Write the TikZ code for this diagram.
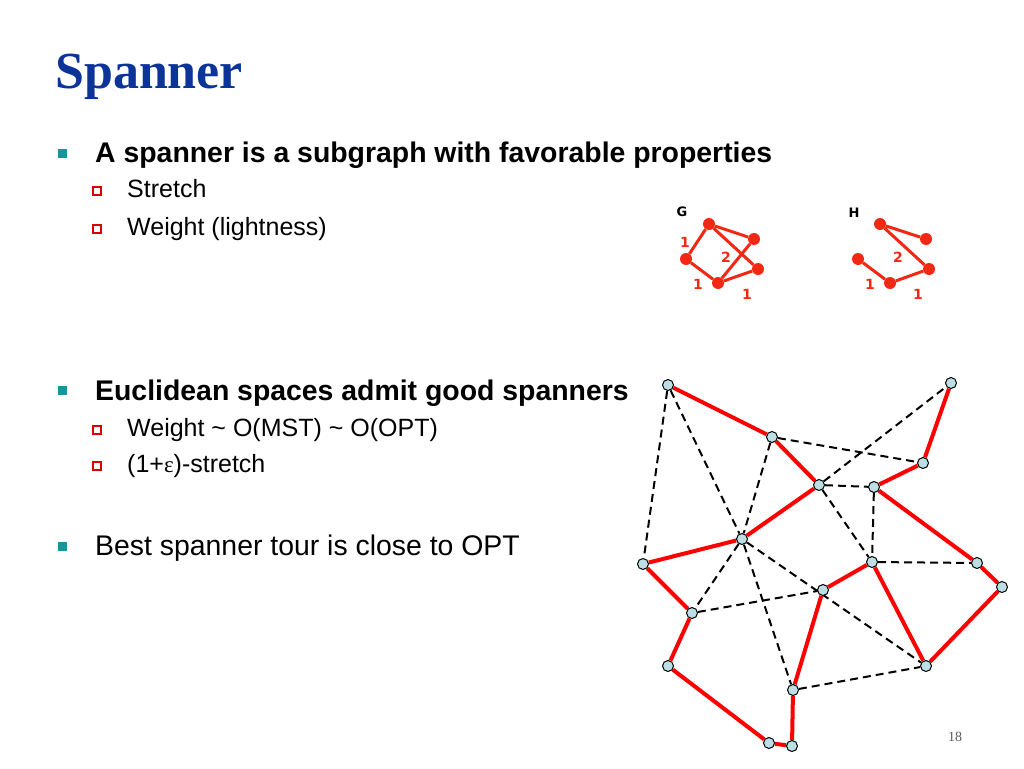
\documentclass[tikz,border=0pt]{standalone}
\usepackage{fontspec}
\setmainfont{Liberation Sans}
\newfontfamily\titlefont{Liberation Serif}
\newfontfamily\pesofont{DejaVu Sans}
\usetikzlibrary{backgrounds}

\definecolor{titleblue}{RGB}{12,52,152}
\definecolor{bulletteal}{RGB}{22,150,152}
\definecolor{puntofill}{RGB}{188,222,228}
\definecolor{rossog}{RGB}{240,40,20}

\begin{document}
\begin{tikzpicture}[x=1pt, y=-1pt,
        testo/.style={anchor=base west, inner sep=0pt, font=\fontsize{28.4}{34}\selectfont},
        sottotesto/.style={anchor=base west, inner sep=0pt, font=\fontsize{25}{30}\selectfont},
        pallino/.style={rectangle, fill=bulletteal, minimum size=9pt, inner sep=0pt},
        quadretto/.style={rectangle, draw=red!85!black, line width=1.5pt, fill=white, minimum size=8pt, inner sep=0pt},
        vertice/.style={circle, draw=black, fill=puntofill, line width=1pt, minimum size=11pt, inner sep=0pt},
        tour/.style={red, line width=4pt},
        extra/.style={black, line width=2pt, dash pattern=on 8pt off 5pt},
        nodo/.style={circle, fill=rossog, minimum size=12pt, inner sep=0pt},
        arco/.style={rossog, line width=3pt},
        peso/.style={rossog, font=\pesofont\bfseries\fontsize{14}{14}\selectfont, inner sep=0pt}]
    \useasboundingbox (0,0) rectangle (1024,768);

    % Titolo
    \node[anchor=base west, inner sep=0pt, text=titleblue,
          font=\titlefont\bfseries\fontsize{52}{60}\selectfont] (titolo) at (55,88) {Spanner};

    % Punti
    \node[pallino] (b1) at (62,153) {};
    \node[testo] (p1) at (95,162) {\bfseries A spanner is a subgraph with favorable properties};
    \node[quadretto] (q1) at (97,191) {};
    \node[sottotesto] (p1a) at (127,197) {Stretch};
    \node[quadretto] (q2) at (97,229) {};
    \node[sottotesto] (p1b) at (127,235) {Weight (lightness)};

    \node[pallino] (b2) at (62,390) {};
    \node[testo] (p2) at (95,400) {\bfseries Euclidean spaces admit good spanners};
    \node[quadretto] (q3) at (97,430) {};
    \node[sottotesto] (p2a) at (127,436) {Weight \textasciitilde{} O(MST) \textasciitilde{} O(OPT)};
    \node[quadretto] (q4) at (97,466) {};
    \node[sottotesto] (p2b) at (127,472) {(1+{\titlefont\fontsize{23}{23}\selectfont ε})-stretch};

    \node[pallino] (b3) at (62,546) {};
    \node[testo] (p3) at (95,555) {Best spanner tour is close to OPT};

    % Grafo G
    \node[font=\pesofont\bfseries\fontsize{13}{13}\selectfont, inner sep=0pt] (nomeG) at (682,212) {G};
    \node[nodo] (g1) at (709,224) {};
    \node[nodo] (g2) at (754,239) {};
    \node[nodo] (g3) at (686,259) {};
    \node[nodo] (g4) at (718,283) {};
    \node[nodo] (g5) at (758,269) {};
    \draw[arco] (g1) -- (g3) (g1) -- (g2) (g1) -- (g5)
                (g3) -- (g4) (g4) -- (g2) (g4) -- (g5);
    \node[peso] (wg1) at (685,242) {1};
    \node[peso] (wg2) at (726,257) {2};
    \node[peso] (wg3) at (698,284) {1};
    \node[peso] (wg4) at (747,294) {1};

    % Grafo H
    \node[font=\pesofont\bfseries\fontsize{13}{13}\selectfont, inner sep=0pt] (nomeH) at (854,213) {H};
    \node[nodo] (h1) at (880,224) {};
    \node[nodo] (h2) at (926,239) {};
    \node[nodo] (h3) at (858,259) {};
    \node[nodo] (h4) at (890,283) {};
    \node[nodo] (h5) at (929,269) {};
    \draw[arco] (h1) -- (h2) (h1) -- (h5) (h3) -- (h4) (h4) -- (h5);
    \node[peso] (wh1) at (898,257) {2};
    \node[peso] (wh2) at (870,284) {1};
    \node[peso] (wh3) at (918,294) {1};

    % Punti del piano
    \node[vertice] (A) at (668,385) {};
    \node[vertice] (B) at (951,383) {};
    \node[vertice] (C) at (772,437) {};
    \node[vertice] (D) at (923,463) {};
    \node[vertice] (E) at (819,485) {};
    \node[vertice] (F) at (874,487) {};
    \node[vertice] (G) at (742,539) {};
    \node[vertice] (H) at (643,564) {};
    \node[vertice] (I) at (872,562) {};
    \node[vertice] (J) at (977,563) {};
    \node[vertice] (K) at (1002,587) {};
    \node[vertice] (L) at (823,590) {};
    \node[vertice] (M) at (692,613) {};
    \node[vertice] (N) at (668,666) {};
    \node[vertice] (O) at (926,666) {};
    \node[vertice] (P) at (793,690) {};
    \node[vertice] (Q) at (769,743) {};
    \node[vertice] (R) at (792,746) {};

    \begin{scope}[on background layer]
        % Archi dello spanner (tratteggiati)
        \draw[extra] (A) -- (H) (A) -- (G) (C) -- (G) (G) -- (M) (G) -- (P) (G) -- (O);
        \draw[extra] (M) -- (L) (E) -- (B) (C) -- (D) (E) -- (F) (E) -- (I);
        \draw[extra] (F) -- (I) (I) -- (J) (P) -- (O);
        % Giro (rosso)
        \draw[tour] (A) -- (C) -- (E) -- (G) -- (H) -- (M) -- (N) -- (Q) -- (R)
                    -- (P) -- (L) -- (I) -- (O) -- (K) -- (J) -- (F) -- (D) -- (B);
    \end{scope}

    % Numero di pagina
    \node[font=\titlefont\fontsize{14}{14}\selectfont, text=black!65, inner sep=0pt] (pagina) at (955,737) {18};
\end{tikzpicture}
\end{document}
